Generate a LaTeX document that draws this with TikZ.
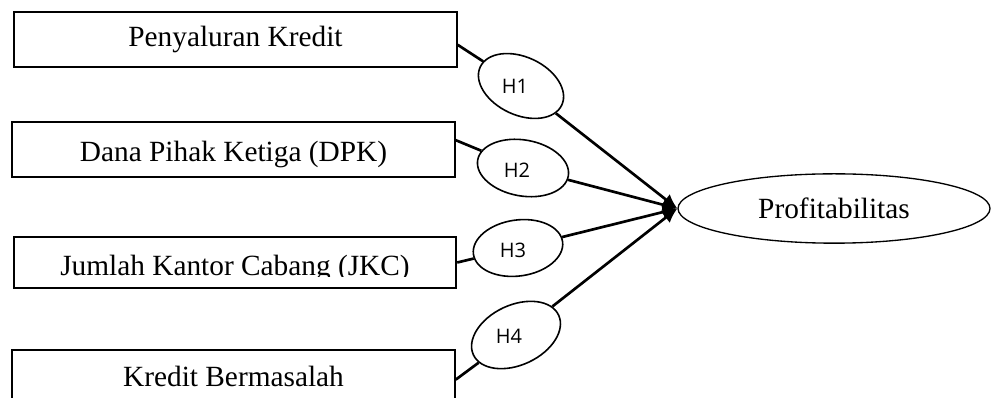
\documentclass[tikz,border=0pt]{standalone}
\usepackage{fontspec}
\setmainfont{Liberation Serif}
\newfontfamily\hfont{Open Sans}
\usetikzlibrary{arrows.meta}
\usetikzlibrary{shapes.geometric}
\tikzset{>={Latex[length=11pt,width=10pt]}}

\begin{document}
\begin{tikzpicture}[x=0.75pt,y=-0.75pt,
    var/.style = {draw, line width=1.3pt, rectangle, minimum width=332pt, minimum height=41pt, inner sep=0pt, font=\fontsize{22}{26}\selectfont},
    vtext/.style = {inner sep=0pt, anchor=base, font=\fontsize{22}{26}\selectfont},
    hyp/.style = {draw, ellipse, line width=1.2pt, fill=white, inner sep=0pt},
    hlab/.style = {inner sep=0pt, font=\hfont\fontsize{15}{17}\selectfont},
    link/.style = {line width=2pt}]
    \clip (0,0) rectangle (992,398);
    % variabel bebas
    \node[var] (b1) at (235.5,39.5) {Penyaluran Kredit};
    \node[var] (b2) at (233.5,149.5) {};
    \node[vtext] (t2) at (233.5,162) {Dana Pihak Ketiga (DPK)};
    \node[var,minimum height=38pt] (b3) at (235,262.5) {};
    \node[var,minimum height=52.5pt] (b4) at (233.5,385) {};
    \begin{scope}
        \clip (0,0) rectangle (992,277);
        \node[vtext] (t3) at (235,276) {Jumlah Kantor Cabang (JKC)};
    \end{scope}
    \node[vtext] (t4) at (233.5,387) {Kredit Bermasalah};
    % variabel terikat
    \node[draw, ellipse, line width=1pt, minimum width=234pt, minimum height=52pt, inner sep=0pt, font=\fontsize{22}{26}\selectfont] (prof) at (834,208.5) {Profitabilitas};
    % hipotesis
    \node[hyp, rotate=-25, minimum width=67.5pt, minimum height=43.5pt] (h1) at (521,86) {};
    \node[hyp, rotate=-10, minimum width=69pt, minimum height=42pt] (h2) at (523,168) {};
    \node[hyp, rotate=8, minimum width=67.5pt, minimum height=42pt] (h3) at (518,248) {};
    \node[hyp, rotate=25, minimum width=70.5pt, minimum height=45pt] (h4) at (516,335) {};
    \node[hlab] (l1) at (515,86) {H1};
    \node[hlab] (l2) at (517,170) {H2};
    \node[hlab] (l3) at (513,250) {H3};
    \node[hlab] (l4) at (509,336) {H4};
    \draw[link] ([yshift=-4pt]b1.east) -- (h1);
    \draw[link] ([yshift=7pt]b2.east) -- (h2);
    \draw[link] (b3.east) -- (h3);
    \draw[link] ([yshift=4pt]b4.east) -- (h4);
    \draw[link,->] (h1) -- (prof.west);
    \draw[link,->] (h2) -- (prof.west);
    \draw[link,->] (h3) -- (prof.west);
    \draw[link,->] (h4) -- (prof.west);
\end{tikzpicture}
\end{document}
